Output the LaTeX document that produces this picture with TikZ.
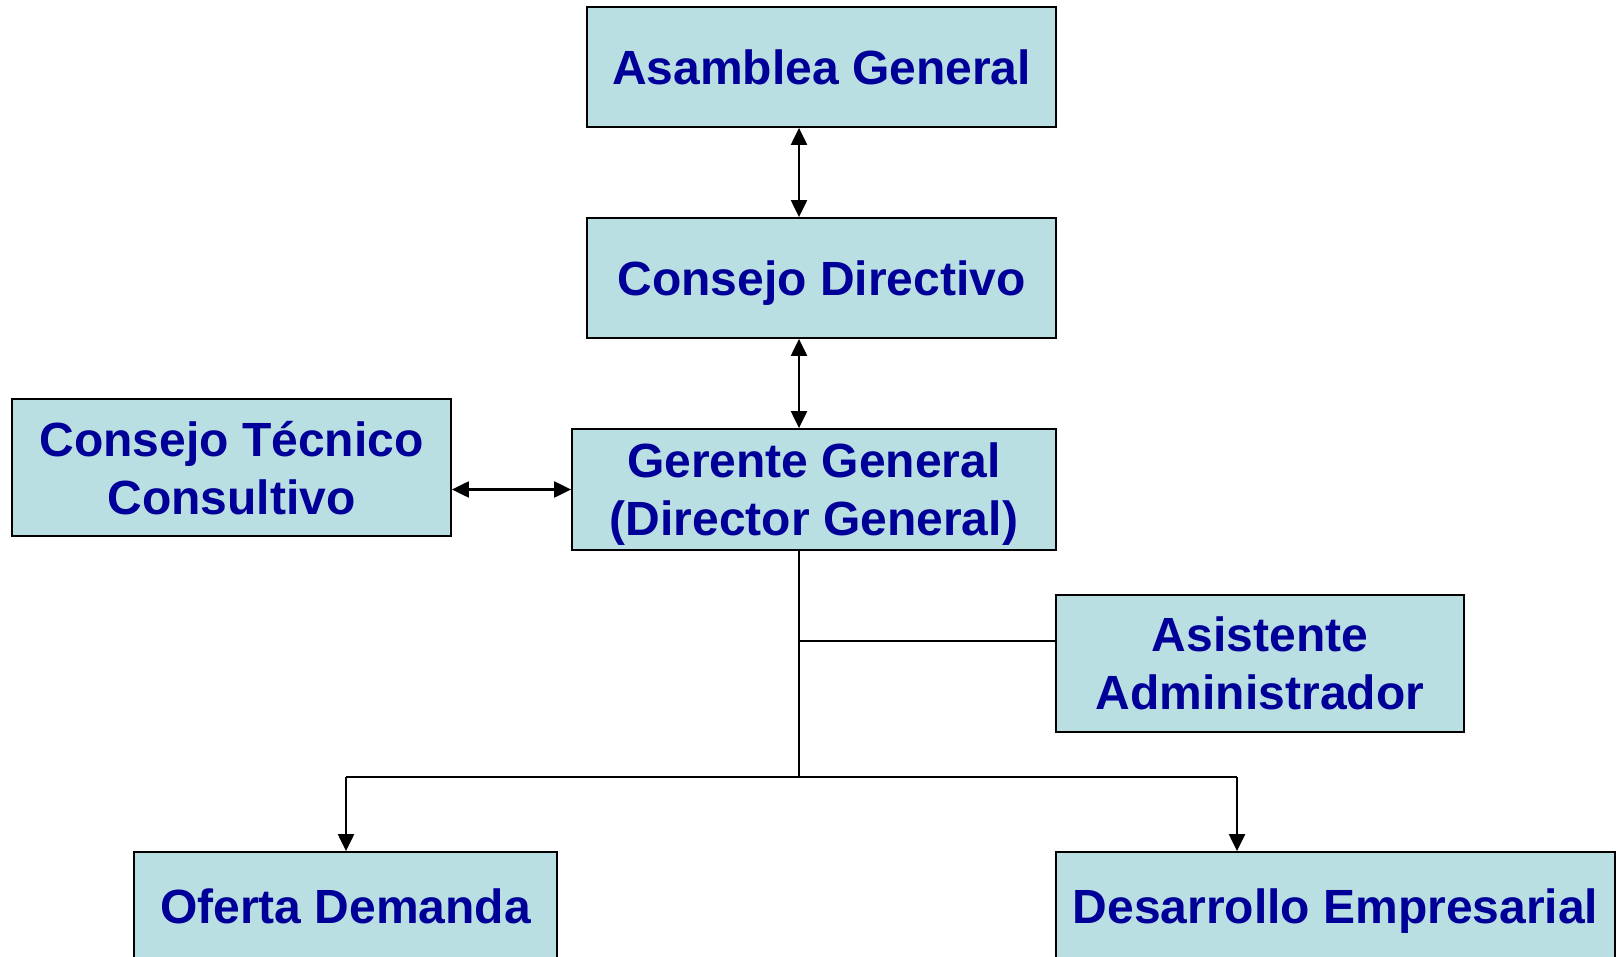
\documentclass[tikz,border=0pt]{standalone}
\usepackage{fontspec}
\setmainfont{Liberation Sans}
\usetikzlibrary{arrows.meta,calc}
\definecolor{boxfill}{RGB}{185,223,227}
\definecolor{txtblue}{RGB}{0,0,153}
\begin{document}
\begin{tikzpicture}[x=1pt,y=-1pt,
  orgbox/.style={draw=black,line width=1.8pt,fill=boxfill,rectangle,inner sep=0pt,
    text=txtblue,font=\fontsize{48}{58}\selectfont\bfseries,align=center},
  oneline/.style={text height=35pt,text depth=0pt},
  twoline/.style={text depth=0pt},
  conn/.style={line width=2.2pt,draw=black},
  tip/.style={-{Triangle[length=17pt,width=16pt]}},
  both/.style={{Triangle[length=17pt,width=16pt]}-{Triangle[length=17pt,width=16pt]}}]
\useasboundingbox (0,0) rectangle (1618,957);
\begin{scope}
\clip (0,0) rectangle (1618,957);
\node[orgbox,oneline,minimum width=469pt,minimum height=120pt] (asam) at (821.5,67) {Asamblea General};
\node[orgbox,oneline,minimum width=469pt,minimum height=120pt] (cons) at (821.5,278) {Consejo Directivo};
\node[orgbox,twoline,minimum width=484pt,minimum height=121pt] (ger) at (814,489.5) {Gerente General\\(Director General)};
\node[orgbox,twoline,minimum width=439pt,minimum height=137pt] (tec) at (231.5,467.5) {Consejo Técnico\\Consultivo};
\node[orgbox,twoline,minimum width=408pt,minimum height=137pt] (asis) at (1260,663.5) {Asistente\\Administrador};
\node[orgbox,oneline,minimum width=423pt,minimum height=108pt] (ofe) at (345.5,906) {Oferta Demanda};
\node[orgbox,oneline,minimum width=559pt,minimum height=108pt] (des) at (1335.5,906) {Desarrollo Empresarial};
\coordinate (vx) at (799,0);
\coordinate (jas) at (799,641);
\coordinate (jb) at (799,777);
\coordinate (jl) at (346,777);
\coordinate (jr) at (1237,777);
\draw[conn,both] (asam.south -| vx) -- (cons.north -| vx);
\draw[conn,both] (cons.south -| vx) -- (ger.north -| vx);
\draw[conn,both] (tec.east |- ger.west) -- (ger.west);
\draw[conn] (ger.south -| vx) -- (jb);
\draw[conn] (jas) -- (asis.west |- jas);
\draw[conn] (jl) -- (jr);
\draw[conn,tip] (jl) -- (ofe.north -| jl);
\draw[conn,tip] (jr) -- (des.north -| jr);
\end{scope}
\end{tikzpicture}
\end{document}
